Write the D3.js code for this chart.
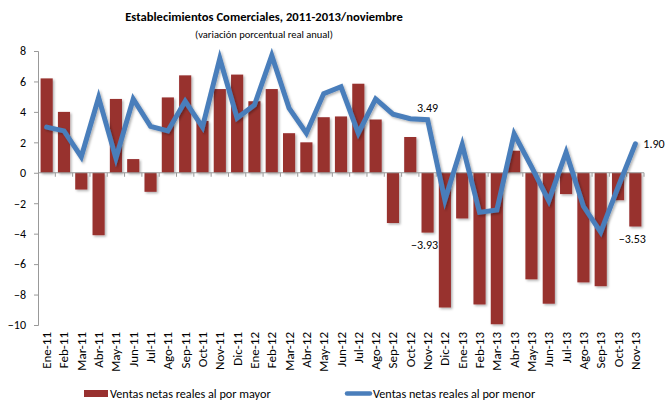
<!DOCTYPE html>
<html>
<head>
<meta charset="utf-8">
<script src="https://cdn.jsdelivr.net/npm/d3@7/dist/d3.min.js"></script>
<style>
  body { margin: 0; background: #fff; }
  text { font-family: Carlito, Lato, "Liberation Sans", sans-serif; fill: #000; }
</style>
</head>
<body>
<script>
// categories
var months = ["Ene-11","Feb-11","Mar-11","Abr-11","May-11","Jun-11","Jul-11","Ago-11","Sep-11","Oct-11","Nov-11","Dic-11",
              "Ene-12","Feb-12","Mar-12","Abr-12","May-12","Jun-12","Jul-12","Ago-12","Sep-12","Oct-12","Nov-12","Dic-12",
              "Ene-13","Feb-13","Mar-13","Abr-13","May-13","Jun-13","Jul-13","Ago-13","Sep-13","Oct-13","Nov-13"];
// Ventas netas reales al por mayor (bars)
var mayor = [6.2, 4.0, -1.1, -4.1, 4.85, 0.9, -1.25, 4.95, 6.4, 3.4, 5.5, 6.45,
             4.7, 5.5, 2.6, 2.0, 3.65, 3.7, 5.85, 3.5, -3.3, 2.35, -3.93, -8.85,
             -3.0, -8.65, -9.95, 1.45, -7.0, -8.6, -1.4, -7.2, -7.45, -1.8, -3.53];
// Ventas netas reales al por menor (line)
var menor = [3.0, 2.75, 1.05, 4.95, 0.95, 4.85, 3.05, 2.75, 4.7, 3.0, 7.5, 3.6,
             4.45, 7.7, 4.25, 2.6, 5.2, 5.65, 2.6, 4.85, 3.85, 3.55, 3.49, -1.8,
             1.85, -2.6, -2.45, 2.55, 0.4, -1.85, 1.35, -2.2, -3.9, -0.95, 1.90];
var yTicks = [8, 6, 4, 2, 0, -2, -4, -6, -8, -10];
// which points get a value label
var labelMayor = ["Nov-12", "Nov-13"];
var labelMenor = ["Nov-12", "Nov-13"];

var W = 668, H = 400;
var svg = d3.select("body").append("svg").attr("width", W).attr("height", H);

var defs = svg.append("defs");
var f = defs.append("filter").attr("id", "shadow").attr("x", "-20%").attr("y", "-20%").attr("width", "150%").attr("height", "150%");
f.append("feDropShadow").attr("dx", 1.5).attr("dy", 1.5).attr("stdDeviation", 1)
  .attr("flood-color", "#000").attr("flood-opacity", 0.3);

var x = d3.scaleBand().domain(months).range([38, 644]).paddingInner(0.3).paddingOuter(0.15);
var y = d3.scaleLinear().domain([-10, 8]).range([325, 51]);

// title
svg.append("text").attr("x", 264).attr("y", 21).attr("text-anchor", "middle")
  .style("font-weight", "bold").style("font-size", "12.6px")
  .text("Establecimientos Comerciales, 2011-2013/noviembre");
svg.append("text").attr("x", 264).attr("y", 38).attr("text-anchor", "middle")
  .style("font-size", "10.5px")
  .text("(variación porcentual real anual)");

// bars
svg.append("g").selectAll("rect").data(mayor).enter().append("rect")
  .attr("x", function (d, i) { return x(months[i]); })
  .attr("y", function (d) { return y(Math.max(0, d)); })
  .attr("width", x.bandwidth())
  .attr("height", function (d) { return Math.abs(y(d) - y(0)); })
  .attr("fill", "#98302f")
  .attr("filter", "url(#shadow)");

// y axis
var yAxis = svg.append("g").attr("transform", "translate(38,0)")
  .call(d3.axisLeft(y).tickValues(yTicks).tickSize(4).tickPadding(8).tickFormat(d3.format("d")));
yAxis.select(".domain").attr("stroke", "#999");
yAxis.selectAll(".tick line").attr("stroke", "#999");
yAxis.selectAll("text").style("font-size", "12px").style("font-family", "Carlito, Lato, sans-serif");

// x axis at zero
var step = x.step();
var xg = svg.append("g");
xg.append("line").attr("x1", 38).attr("x2", 644).attr("y1", y(0)).attr("y2", y(0)).attr("stroke", "#999");
xg.selectAll("line.t").data(months).enter().append("line").attr("class", "t")
  .attr("x1", function (d) { return x(d) - x.paddingInner() * step / 2 + step; })
  .attr("x2", function (d) { return x(d) - x.paddingInner() * step / 2 + step; })
  .attr("y1", y(0)).attr("y2", y(0) + 4).attr("stroke", "#999");

// x labels (rotated)
svg.append("g").selectAll("text").data(months).enter().append("text")
  .attr("transform", function (d) { return "translate(" + (x(d) + x.bandwidth() / 2 + 4.5) + "," + 332 + ") rotate(-90)"; })
  .attr("text-anchor", "end")
  .style("font-size", "13px")
  .text(function (d) { return d; });

// line
var line = d3.line()
  .x(function (d, i) { return x(months[i]) + x.bandwidth() / 2; })
  .y(function (d) { return y(d); });
svg.append("path").datum(menor)
  .attr("d", line)
  .attr("fill", "none")
  .attr("stroke", "#4a7ebb")
  .attr("stroke-width", 5)
  .attr("stroke-linejoin", "miter")
  .attr("stroke-linecap", "round")
  .attr("filter", "url(#shadow)");

// value labels
var fmt = d3.format(".2f");
labelMayor.forEach(function (m) {
  var i = months.indexOf(m);
  svg.append("text").attr("x", x(m) + x.bandwidth() / 2 - 3).attr("y", y(mayor[i]) + 16)
    .attr("text-anchor", "middle").style("font-size", "12px").text(fmt(mayor[i]));
});
// Nov-12 above, Nov-13 to the right
(function () {
  var i = months.indexOf(labelMenor[0]);
  svg.append("text").attr("x", x(labelMenor[0]) + x.bandwidth() / 2).attr("y", y(menor[i]) - 8)
    .attr("text-anchor", "middle").style("font-size", "12px").text(fmt(menor[i]));
  var j = months.indexOf(labelMenor[1]);
  svg.append("text").attr("x", x(labelMenor[1]) + x.bandwidth() / 2 + 8).attr("y", y(menor[j]) + 4)
    .attr("text-anchor", "start").style("font-size", "12px").text(fmt(menor[j]));
})();

// legend
var lg = svg.append("g");
lg.append("rect").attr("x", 84).attr("y", 390).attr("width", 24).attr("height", 7).attr("fill", "#98302f");
lg.append("text").attr("x", 110).attr("y", 397.5).style("font-size", "12.2px").text("Ventas netas reales al por mayor");
lg.append("line").attr("x1", 347).attr("x2", 370).attr("y1", 393.5).attr("y2", 393.5)
  .attr("stroke", "#4a7ebb").attr("stroke-width", 4.5).attr("stroke-linecap", "round");
lg.append("text").attr("x", 373).attr("y", 397.5).style("font-size", "12.2px").text("Ventas netas reales al por menor");
</script>
</body>
</html>
